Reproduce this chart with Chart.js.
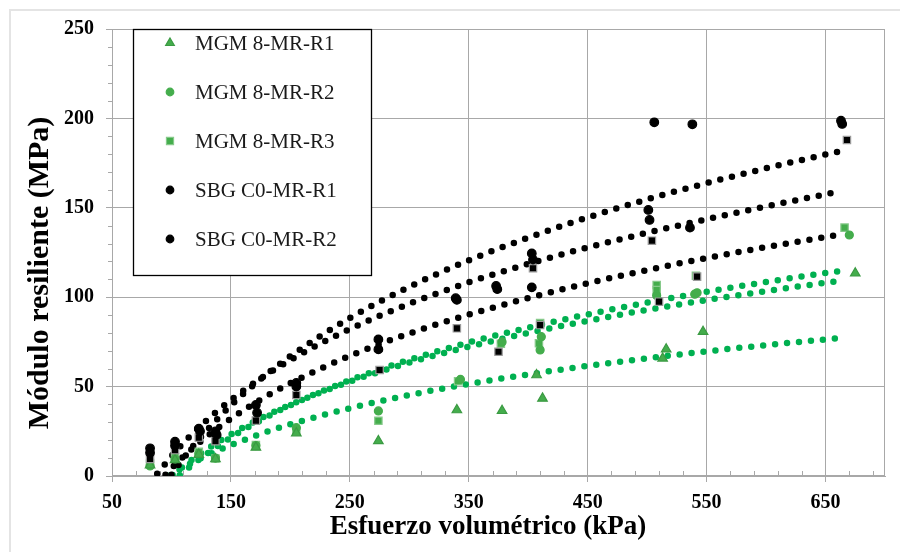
<!DOCTYPE html>
<html lang="es">
<head>
<meta charset="utf-8">
<title>Módulo resiliente vs esfuerzo volumétrico</title>
<script src="https://cdn.jsdelivr.net/npm/chart.js@4.4.1/dist/chart.umd.min.js"></script>
<style>
  html, body { margin: 0; padding: 0; background: #fff; }
  #wrap { position: relative; width: 900px; height: 552px; }
  #frame { position: absolute; left: 9px; top: 9px; width: 900px; height: 560px;
           border-left: 2px solid #e4e4e4; border-top: 2px solid #e4e4e4; pointer-events: none; }
</style>
</head>
<body>
<div id="wrap"><canvas id="chart"></canvas><div id="frame"></div></div>
<script>
(function () {
  'use strict';

  var xTicks = [50, 150, 250, 350, 450, 550, 650];
  var yTicks = [0, 50, 100, 150, 200, 250];
  var xTitle = 'Esfuerzo volumétrico (kPa)';
  var yTitle = 'Módulo resiliente (MPa)';

  // MGM 8 (verde)
  var mgmR1X = [82, 103, 123, 137, 171, 205, 274, 340, 378, 407, 412, 513, 516, 547, 675];
  var mgmR1Y = [6, 9, 12, 9.5, 16, 24, 19.6, 36.9, 36.5, 56.5, 43.4, 65.8, 70.9, 80.7, 113.4];
  var mgmR2X = [82, 103, 123, 137, 171, 205, 274, 343, 378, 410, 411, 508, 540, 542, 670];
  var mgmR2Y = [5.6, 9.5, 12.5, 10, 17, 27, 36.4, 54, 75, 70.5, 77.9, 101, 101.7, 102.5, 134.8];
  var mgmR3X = [82, 103, 123, 137, 171, 205, 274, 341, 377, 410, 409, 508, 508, 541, 666];
  var mgmR3Y = [7, 10.5, 13.5, 9.8, 17.3, 25, 30.9, 53, 74, 85.5, 74.2, 106.8, 104, 112, 138.9];

  // SBG C0 (negro)
  var sbgR1X = [82, 103, 123, 137, 171, 205, 274, 339, 373, 403, 403, 501, 506, 538, 663];
  var sbgR1Y = [15.5, 19.2, 26.5, 25, 39.7, 52, 76.4, 99.4, 106.3, 124.5, 105.5, 148.8, 197.8, 196.7, 198.7];
  var sbgR2X = [82, 103, 124, 138, 172, 205, 274, 340, 374, 404, 502, 536, 664];
  var sbgR2Y = [13, 17, 25, 23, 35.4, 50, 70.8, 98.5, 104.5, 121, 143.2, 138.9, 196.9];
  var sbgR3X = [82, 103, 123, 137, 171, 205, 275, 340, 375, 404, 410, 504, 510, 542, 668];
  var sbgR3Y = [9.5, 14.5, 21.5, 19.5, 31, 45.3, 59.3, 82.6, 69.5, 116.2, 84.4, 131.6, 97.5, 111.5, 187.9];

  var tendNegAX = [100, 110, 125, 150, 175, 200, 250, 300, 350, 400, 450, 500, 550, 600, 650, 662];
  var tendNegAY = [0.7, 9.8, 22.0, 39.5, 54.2, 67.0, 88.4, 105.8, 120.6, 133.3, 144.6, 154.7, 163.8, 172.1, 179.8, 181.6];
  var tendNegBX = [88, 100, 110, 125, 150, 175, 200, 250, 300, 350, 400, 450, 500, 550, 600, 650, 657];
  var tendNegBY = [1.2, 11.1, 18.5, 28.4, 42.5, 54.5, 64.9, 82.2, 96.3, 108.3, 118.6, 127.8, 136.0, 143.6, 150.8, 157.6, 158.6];
  var tendNegCX = [95, 100, 110, 125, 150, 175, 200, 250, 300, 350, 400, 450, 500, 550, 600, 650, 661];
  var tendNegCY = [0.7, 4.3, 10.8, 19.6, 32.1, 42.7, 51.9, 67.2, 79.7, 90.3, 99.5, 107.8, 115.2, 121.9, 128.0, 133.6, 134.9];
  var tendVerAX = [107, 110, 125, 150, 175, 200, 250, 300, 350, 400, 450, 500, 550, 600, 650, 662];
  var tendVerAY = [0.4, 2.1, 10.1, 21.5, 31.2, 39.6, 53.6, 65.0, 74.7, 83.0, 90.4, 97.0, 103.0, 108.5, 113.5, 114.6];
  var tendVerBX = [101, 110, 125, 150, 175, 200, 250, 300, 350, 400, 450, 500, 550, 600, 650, 663];
  var tendVerBY = [0.5, 5.4, 12.8, 23.3, 32.2, 39.9, 52.8, 63.4, 72.3, 80.0, 86.8, 92.9, 98.4, 103.4, 108.1, 109.2];
  var tendVerCX = [98, 110, 125, 150, 175, 200, 250, 300, 350, 400, 450, 500, 550, 600, 650, 666];
  var tendVerCY = [0.2, 4.8, 10.0, 17.3, 23.5, 28.9, 37.9, 45.3, 51.5, 56.8, 61.6, 65.8, 69.7, 73.2, 76.4, 77.4];

  var GREEN = '#44ad4c';
  var GREEN_EDGE = '#3a9a42';
  var GREEN_LINE = '#00b050';
  var GRID = '#a8a8a8';
  var SERIF = '"Liberation Serif", "Times New Roman", serif';

  function pts(xs, ys) {
    return xs.map(function (x, i) { return { x: x, y: ys[i] }; });
  }

  function markerSet(label, xs, ys, shape, fill, stroke, radius, order, inLegend) {
    return {
      type: 'scatter', label: label, data: pts(xs, ys), showLine: false,
      pointStyle: shape, pointRadius: radius, pointHoverRadius: radius,
      backgroundColor: fill, borderColor: stroke, pointBorderWidth: 1.2,
      order: order, inLegend: inLegend
    };
  }

  function trend(label, xs, ys, color) {
    return {
      type: 'line', label: label, data: pts(xs, ys), fill: false,
      borderColor: color, borderWidth: 6.5, borderDash: [0, 12], borderCapStyle: 'round',
      pointRadius: 0, pointHoverRadius: 0, cubicInterpolationMode: 'monotone',
      order: 5, inLegend: false
    };
  }

  var datasets = [
    markerSet('MGM 8-MR-R1', mgmR1X, mgmR1Y, 'triangle', GREEN, GREEN_EDGE, 5.5, 3, true),
    markerSet('MGM 8-MR-R2', mgmR2X, mgmR2Y, 'circle', GREEN, GREEN, 4, 3, true),
    markerSet('MGM 8-MR-R3', mgmR3X, mgmR3Y, 'rect', GREEN, '#86c98a', 5.2, 3, true),
    markerSet('SBG C0-MR-R1', sbgR1X, sbgR1Y, 'circle', '#000', '#000', 4.3, 1, true),
    markerSet('SBG C0-MR-R2', sbgR2X, sbgR2Y, 'circle', '#000', '#000', 4.3, 1, true),
    markerSet('SBG C0-MR-R3', sbgR3X, sbgR3Y, 'rect', '#000', '#9a9a9a', 5.2, 1, false),
    trend('tend SBG A', tendNegAX, tendNegAY, '#000'),
    trend('tend SBG B', tendNegBX, tendNegBY, '#000'),
    trend('tend SBG C', tendNegCX, tendNegCY, '#000'),
    trend('tend MGM A', tendVerAX, tendVerAY, GREEN_LINE),
    trend('tend MGM B', tendVerBX, tendVerBY, GREEN_LINE),
    trend('tend MGM C', tendVerCX, tendVerCY, GREEN_LINE)
  ];

  function drawMarker(ctx, shape, x, y, r, fill, stroke) {
    ctx.save();
    ctx.beginPath();
    if (shape === 'triangle') {
      ctx.moveTo(x, y - r);
      ctx.lineTo(x + r * 0.866, y + r * 0.5);
      ctx.lineTo(x - r * 0.866, y + r * 0.5);
      ctx.closePath();
    } else if (shape === 'rect') {
      ctx.rect(x - r * 0.707, y - r * 0.707, r * 1.414, r * 1.414);
    } else {
      ctx.arc(x, y, r, 0, Math.PI * 2);
    }
    ctx.fillStyle = fill;
    ctx.fill();
    ctx.lineWidth = 1.2;
    ctx.strokeStyle = stroke;
    ctx.stroke();
    ctx.restore();
  }

  // marco, ticks menores, titulos y leyenda
  var decoPlugin = {
    id: 'deco',
    beforeDatasetsDraw: function (chart) {
      var ctx = chart.ctx, a = chart.chartArea;
      var xs = chart.scales.x, ys = chart.scales.y;
      ctx.save();
      ctx.strokeStyle = GRID;
      ctx.lineWidth = 1;
      ctx.strokeRect(Math.round(a.left) + 0.5, Math.round(a.top) + 0.5,
        Math.round(a.right - a.left) - 1, Math.round(a.bottom - a.top) - 1);
      ctx.beginPath();
      for (var v = 10; v < 250; v += 10) {
        if (v % 50 === 0) continue;
        var py = Math.round(ys.getPixelForValue(v)) + 0.5;
        ctx.moveTo(a.left - 4, py); ctx.lineTo(a.left + 1, py);
      }
      for (var u = 70; u < 700; u += 20) {
        if ((u - 50) % 100 === 0) continue;
        var px = Math.round(xs.getPixelForValue(u)) + 0.5;
        ctx.moveTo(px, a.bottom - 5); ctx.lineTo(px, a.bottom);
      }
      ctx.stroke();
      ctx.restore();
    },
    afterDraw: function (chart) {
      var ctx = chart.ctx, a = chart.chartArea;
      ctx.save();
      ctx.fillStyle = '#000';
      ctx.textAlign = 'center';
      ctx.textBaseline = 'middle';
      ctx.font = 'bold 27px ' + SERIF;
      ctx.fillText(xTitle, 488, 527);
      ctx.font = 'bold 30px ' + SERIF;
      ctx.translate(40, 273);
      ctx.rotate(-Math.PI / 2);
      ctx.fillText(yTitle, 0, 0);
      ctx.restore();

      // leyenda
      var boxL = a.left + 21, boxT = a.top, boxW = 238, boxH = 246;
      ctx.save();
      ctx.fillStyle = '#fff';
      ctx.fillRect(boxL, boxT, boxW, boxH);
      ctx.strokeStyle = '#000';
      ctx.lineWidth = 1.3;
      ctx.strokeRect(boxL + 0.5, boxT + 0.5, boxW, boxH);
      ctx.font = '21px ' + SERIF;
      ctx.textBaseline = 'middle';
      ctx.textAlign = 'left';
      var row = 0;
      chart.data.datasets.forEach(function (ds) {
        if (!ds.inLegend) return;
        var cy = boxT + 14 + row * 49;
        var r = ds.pointStyle === 'triangle' ? 5 : (ds.pointStyle === 'rect' ? 5 : 3.8);
        drawMarker(ctx, ds.pointStyle, boxL + 37, cy, r, ds.backgroundColor, ds.borderColor);
        ctx.fillStyle = '#1a1a1a';
        ctx.fillText(ds.label, boxL + 62, cy + 1);
        row++;
      });
      ctx.restore();
    }
  };

  var ctx = document.getElementById('chart').getContext('2d');
  new Chart(ctx, {
    type: 'scatter',
    data: { datasets: datasets },
    plugins: [decoPlugin],
    options: {
      responsive: true,
      maintainAspectRatio: false,
      animation: false,
      events: [],
      layout: { padding: { top: 29, right: 15, left: 0, bottom: 0 } },
      plugins: { legend: { display: false }, tooltip: { enabled: false } },
      scales: {
        x: {
          type: 'linear', min: 50, max: 700,
          afterBuildTicks: function (s) { s.ticks = xTicks.map(function (v) { return { value: v }; }); },
          afterFit: function (s) { s.height = 76; },
          grid: { color: GRID, lineWidth: 1, tickLength: 6 },
          border: { color: GRID, width: 1 },
          ticks: { color: '#000', padding: 9, maxRotation: 0, autoSkip: false,
                   font: { family: SERIF, size: 20, weight: 'bold' } }
        },
        y: {
          type: 'linear', min: 0, max: 250,
          afterBuildTicks: function (s) { s.ticks = yTicks.map(function (v) { return { value: v }; }); },
          afterFit: function (s) { s.width = 112; },
          grid: { color: GRID, lineWidth: 1, tickLength: 6 },
          border: { color: GRID, width: 1 },
          ticks: { color: '#000', padding: 12,
                   font: { family: SERIF, size: 20, weight: 'bold' } }
        }
      }
    }
  });
})();
</script>
</body>
</html>
